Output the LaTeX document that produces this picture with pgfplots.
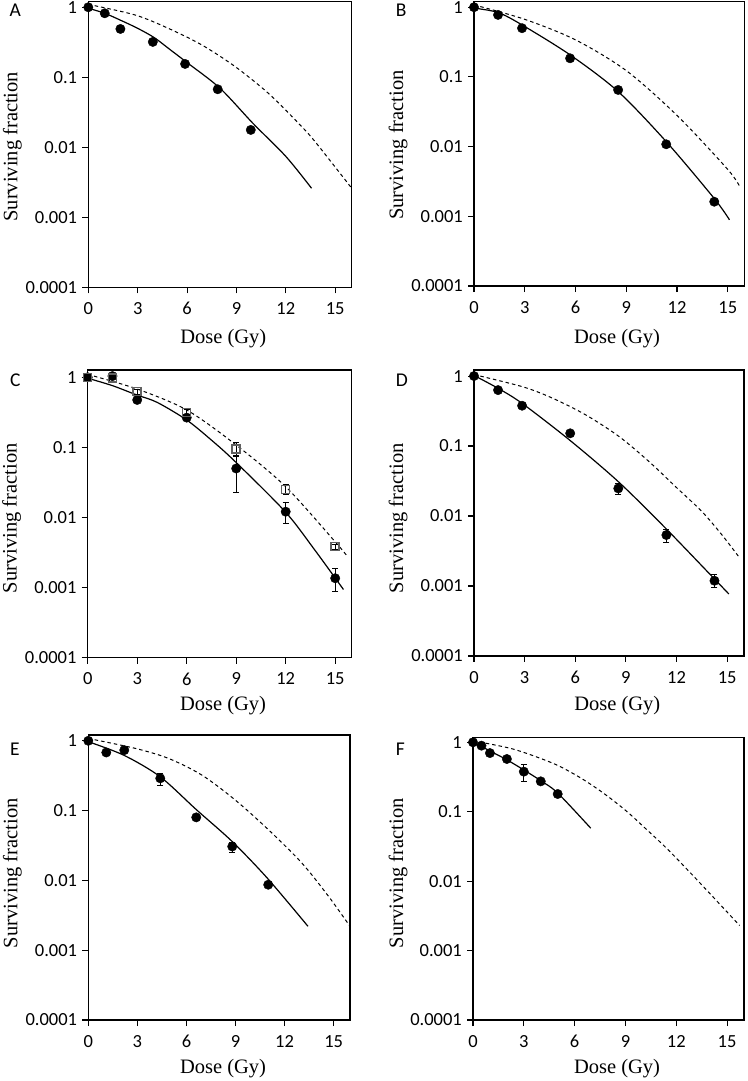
\documentclass[border=0pt]{standalone}
\usepackage{pgfplots}
\pgfplotsset{compat=1.18}
\usepackage{fontspec}
\setmainfont{Liberation Serif}
\newfontfamily\carlito{Carlito}
\newfontfamily\tnr{Liberation Serif}
\pgfplotsset{
  mypanel/.style={
    scale only axis, xmin=0, xmax=16, ymin=1e-4,
    xtick={0,3,6,9,12,15}, xticklabels={0,3,6,9,12,15},
    ytick={1e-4,1e-3,1e-2,1e-1,1}, yticklabels={0.0001,0.001,0.01,0.1,1},
    yminorticks=false, xminorticks=false,
    tick align=outside, major tick length=6pt,
    xtick pos=left, ytick pos=left,
    axis line style={line width=1.1pt, black},
    every tick/.style={line width=1.1pt, black},
    tick label style={font=\carlito\fontsize{18.5}{18.5}\selectfont, inner sep=0pt},
    yticklabel style={xshift=-5pt},
    xticklabel style={yshift=-9pt},
    clip=false,
  },
  mydots/.style={only marks, mark=*, mark size=4.7pt, mark options={fill=black, draw=black}},
  mysqr/.style={only marks, mark=square, mark size=4pt, mark options={draw=gray!75!black, fill=none, line width=1.5pt}},
  myfit/.style={no marks, black, line width=1.2pt, smooth},
  myref/.style={no marks, black, line width=1pt, dash pattern=on 3.5pt off 3pt, smooth},
  myerrs/.style={error bars/.cd, y dir=both, y explicit,
    error bar style={line width=0.9pt, black},
    error mark options={rotate=90, mark size=3pt, line width=0.9pt, black}},
}
\begin{document}
\begin{tikzpicture}[x=1pt,y=1pt]
\path[use as bounding box] (0,0) rectangle (747,-1081);

% ---------------- A ----------------
\begin{axis}[ymode=log, mypanel, at={(88.3pt,-287.3pt)}, anchor=south west, width=263.4pt, height=285.6pt, ymax=1.2]
\addplot[myref] coordinates {(0,1.1) (2.84,0.776) (4.86,0.50) (6.89,0.29) (8.92,0.142) (10.94,0.059) (12.77,0.022) (13.78,0.012) (16,0.0026)};
\addplot[myfit] coordinates {(0,0.968) (1,0.82) (2,0.646) (3,0.50) (4,0.369) (5,0.245) (6,0.162) (8,0.0697) (10,0.022) (12,0.0074) (13.56,0.0026)};
\addplot[mydots] coordinates {(0,1.0) (1,0.82) (1.95,0.49) (3.92,0.32) (5.88,0.155) (7.86,0.0674) (9.87,0.0177)};
\end{axis}

% ---------------- B ----------------
\begin{axis}[ymode=log, mypanel, at={(474pt,-286pt)}, anchor=south west, width=270.7pt, height=284.3pt, ymax=1.2]
\addplot[myref] coordinates {(0,1.08) (3,0.67) (6,0.34) (9,0.123) (12,0.028) (15,0.0047) (15.73,0.0026)};
\addplot[myfit] coordinates {(0,0.97) (1.42,0.84) (2.84,0.557) (5.68,0.207) (8.52,0.0616) (11.36,0.0118) (14.2,0.0018) (15.1,0.00089)};
\addplot[mydots] coordinates {(0,1.0) (1.42,0.776) (2.84,0.50) (5.68,0.185) (8.52,0.065) (11.36,0.0108) (14.2,0.00162)};
\end{axis}

% ---------------- C ----------------
\begin{axis}[ymode=log, mypanel, at={(87.7pt,-657.7pt)}, anchor=south west, width=264pt, height=287.7pt, ymax=1.27]
\addplot[myref] coordinates {(0,1.1) (3,0.68) (6,0.342) (9,0.108) (12,0.0275) (15,0.0045) (15.7,0.00286)};
\addplot[myfit] coordinates {(0,0.97) (1.5,0.76) (2.97,0.56) (4.2,0.44) (6,0.246) (7.5,0.127) (8.94,0.0627) (11.97,0.0121) (13.7,0.0036) (15.5,0.00094)};
\addplot[mydots, myerrs] coordinates {
  (0,1.0) +- (0,0)
  (1.5,1.04) +- (0,0)
  (3,0.475) +- (0,0.04)
  (6,0.266) +- (0,0.02)
  (9,0.050) += (0,0.0238) -= (0,0.0271)
  (12,0.0121) += (0,0.0044) -= (0,0.0039)
  (15,0.00136) += (0,0.00051) -= (0,0.00049)};
\addplot[mysqr, myerrs] coordinates {
  (0,1.0) +- (0,0)
  (1.5,0.98) +- (0,0)
  (3,0.625) +- (0,0.05)
  (6,0.317) +- (0,0.03)
  (9,0.095) += (0,0.023) -= (0,0.017)
  (12,0.0252) += (0,0.0046) -= (0,0.0042)
  (15,0.00384) +- (0,0.0003)};
\end{axis}

% ---------------- D ----------------
\begin{axis}[ymode=log, mypanel, at={(474pt,-656pt)}, anchor=south west, width=270pt, height=286pt, ymax=1.22]
\addplot[myref] coordinates {(0,1.05) (2.91,0.70) (4.68,0.48) (6.64,0.277) (8.61,0.136) (10.38,0.0597) (11.95,0.0262) (13.52,0.0115) (14.7,0.00535) (15.69,0.00262)};
\addplot[myfit] coordinates {(0,1.02) (1.43,0.667) (2.85,0.407) (5.66,0.122) (8.55,0.031) (11.36,0.00667) (14.21,0.00129) (15.1,0.00077)};
\addplot[mydots, myerrs] coordinates {
  (0,1.0) +- (0,0)
  (1.425,0.63) +- (0,0)
  (2.85,0.377) +- (0,0)
  (5.7,0.152) +- (0,0)
  (8.55,0.0248) += (0,0.0045) -= (0,0.0044)
  (11.4,0.00535) += (0,0.0011) -= (0,0.0012)
  (14.25,0.00119) += (0,0.00028) -= (0,0.00023)};
\end{axis}

% ---------------- E ----------------
\begin{axis}[ymode=log, mypanel, at={(88.3pt,-1020pt)}, anchor=south west, width=261.7pt, height=285pt, ymax=1.21]
\addplot[myref] coordinates {(0,1.08) (2.86,0.78) (4.9,0.56) (6.94,0.323) (8.98,0.142) (11.02,0.053) (13.06,0.0177) (14.69,0.0059) (16,0.0022)};
\addplot[myfit] coordinates {(0,0.97) (2.18,0.62) (4.39,0.306) (6.59,0.104) (8.8,0.036) (10.94,0.0108) (13.43,0.0022)};
\addplot[mydots, myerrs] coordinates {
  (0,1.0) +- (0,0)
  (1.1,0.68) +- (0,0)
  (2.2,0.735) +- (0,0)
  (4.4,0.29) += (0,0.051) -= (0,0.057)
  (6.6,0.080) +- (0,0)
  (8.8,0.0306) += (0,0.0043) -= (0,0.0055)
  (11,0.00867) +- (0,0.0007)};
\end{axis}

% ---------------- F ----------------
\begin{axis}[ymode=log, mypanel, at={(473pt,-1020pt)}, anchor=south west, width=271pt, height=282.7pt, ymax=1.18]
\addplot[myref] coordinates {(0,1.05) (2.36,0.80) (4.71,0.50) (6.27,0.316) (7.64,0.19) (9,0.105) (10.18,0.0575) (11.54,0.028) (13.3,0.01) (15.74,0.0023)};
\addplot[myfit] coordinates {(0,1.0) (0.5,0.875) (1,0.75) (2,0.56) (3,0.40) (4,0.28) (5,0.186) (6.95,0.058)};
\addplot[mydots, myerrs] coordinates {
  (0,1.0) +- (0,0)
  (0.5,0.895) +- (0,0)
  (1,0.70) +- (0,0)
  (2,0.575) +- (0,0)
  (3,0.378) += (0,0.109) -= (0,0.104)
  (4,0.274) +- (0,0)
  (5,0.18) +- (0,0)};
\end{axis}

% ---------------- labels ----------------
\tikzset{ylab/.style={rotate=90, anchor=base, inner sep=0pt, font=\tnr\fontsize{20.5}{20.5}\selectfont},
         xlab/.style={anchor=base, inner sep=0pt, font=\tnr\fontsize{20.5}{20.5}\selectfont},
         plab/.style={anchor=base west, inner sep=0pt, font=\carlito\fontsize{19.5}{19.5}\selectfont}}
\node[ylab] at (17.3,-146.7) {Surviving fraction};
\node[ylab] at (403,-145) {Surviving fraction};
\node[ylab] at (16.7,-518.3) {Surviving fraction};
\node[ylab] at (403,-518.3) {Surviving fraction};
\node[ylab] at (17.3,-873.3) {Surviving fraction};
\node[ylab] at (403,-873.3) {Surviving fraction};
\node[xlab] at (223.3,-343.5) {Dose (Gy)};
\node[xlab] at (617,-343.3) {Dose (Gy)};
\node[xlab] at (223,-710.3) {Dose (Gy)};
\node[xlab] at (617.3,-710) {Dose (Gy)};
\node[xlab] at (223,-1073.7) {Dose (Gy)};
\node[xlab] at (617,-1073.3) {Dose (Gy)};
\node[plab] at (9.3,-16.7) {A};
\node[plab] at (395.7,-16.7) {B};
\node[plab] at (10,-386.7) {C};
\node[plab] at (395.7,-386.7) {D};
\node[plab] at (10,-755) {E};
\node[plab] at (395.7,-755) {F};
\end{tikzpicture}
\end{document}
